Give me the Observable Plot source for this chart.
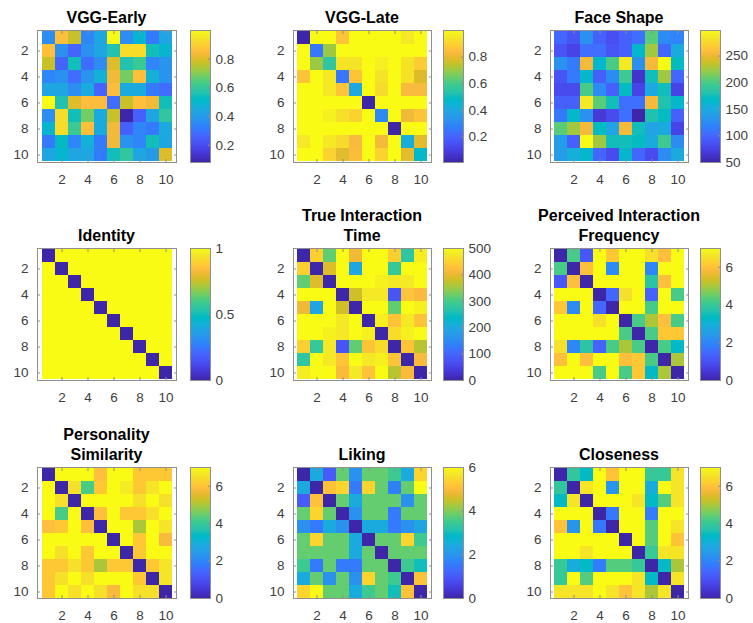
<!DOCTYPE html>
<html>
<head>
<meta charset="utf-8">
<script src="https://cdn.jsdelivr.net/npm/d3@7"></script>
<script src="https://cdn.jsdelivr.net/npm/@observablehq/plot@0.6"></script>
<style>
html, body { margin: 0; padding: 0; background: #fff; }
#chart { position: relative; width: 753px; height: 623px; overflow: hidden; background: #fff;
  font-family: "Liberation Sans", Arial, Helvetica, sans-serif; }
.title { position: absolute; width: 260px; text-align: center; font-weight: bold; font-size: 16px;
  color: #000; line-height: 20.5px; white-space: pre; }
.panel { position: absolute; }
.panel svg { overflow: visible; max-width: none !important; display: block; }
</style>
</head>
<body>
<div id="chart"></div>
<script>
// ---------- data ----------
const cellIndex = [1, 2, 3, 4, 5, 6, 7, 8, 9, 10];
const axisTicks = [2, 4, 6, 8, 10];

const titles = [
  "VGG-Early", "VGG-Late", "Face Shape",
  "Identity", "True Interaction\nTime", "Perceived Interaction\nFrequency",
  "Personality\nSimilarity", "Liking", "Closeness"
];

const vggEarly = [
  [0.36,0.86,0.77,0.34,0.43,1.00,0.36,0.49,0.31,0.43],
  [0.86,0.37,0.26,0.37,0.43,0.56,0.93,0.93,0.54,0.49],
  [0.77,0.26,0.54,0.28,0.36,0.80,0.56,0.61,0.34,0.38],
  [0.34,0.37,0.28,0.38,0.47,0.83,0.68,0.86,0.47,0.38],
  [0.43,0.43,0.36,0.45,0.26,0.85,0.45,0.45,0.31,0.28],
  [1.00,0.56,0.80,0.85,0.85,0.28,0.77,0.86,0.83,0.54],
  [0.36,0.93,0.54,0.68,0.45,0.77,0.08,0.25,0.43,0.59],
  [0.49,0.93,0.61,0.86,0.45,0.83,0.25,0.34,0.31,0.45],
  [0.31,0.52,0.34,0.47,0.31,0.83,0.38,0.34,0.54,0.43],
  [0.43,0.49,0.43,0.43,0.31,0.54,0.59,0.43,0.40,0.80]
];

const vggLate = [
  [0.01,1.00,1.00,0.86,1.00,1.00,1.00,1.00,0.95,1.00],
  [1.00,0.25,0.70,1.00,1.00,1.00,1.00,1.00,1.00,1.00],
  [1.00,0.70,0.56,0.94,0.94,1.00,0.97,1.00,0.94,0.88],
  [0.86,1.00,0.95,0.25,0.86,1.00,0.94,1.00,0.93,0.78],
  [1.00,1.00,0.95,0.86,0.40,1.00,0.92,1.00,0.83,0.83],
  [1.00,1.00,1.00,1.00,1.00,0.01,1.00,1.00,1.00,1.00],
  [1.00,1.00,0.97,0.93,0.90,1.00,0.30,1.00,0.81,0.86],
  [1.00,1.00,1.00,1.00,1.00,1.00,1.00,0.01,1.00,1.00],
  [0.95,1.00,0.95,0.92,0.83,1.00,0.82,1.00,0.42,0.79],
  [1.00,1.00,0.90,0.79,0.84,1.00,0.90,1.00,0.79,0.47]
];

const faceShape = [
  [100, 87,129, 95, 82, 95,105,204,124,119],
  [ 87, 75,105,105, 87, 95,162,224,100,149],
  [129,112,253,162,199,286,129,253,298,169],
  [ 87,112,162, 95,124,194, 62,174,224,100],
  [ 80, 80,199,124, 95,169, 75,149,174, 75],
  [ 95, 95,286,204,174,105,105,253,179,162],
  [112,162,129, 67, 80,105, 50,179,169, 95],
  [204,224,253,169,144,253,174,144,149, 75],
  [137, 95,298,224,174,174,169,149,194,124],
  [137,154,162,100, 80,162,100, 80,124,149]
];

const identity = [
  [0,1,1,1,1,1,1,1,1,1],
  [1,0,1,1,1,1,1,1,1,1],
  [1,1,0,1,1,1,1,1,1,1],
  [1,1,1,0,1,1,1,1,1,1],
  [1,1,1,1,0,1,1,1,1,1],
  [1,1,1,1,1,0,1,1,1,1],
  [1,1,1,1,1,1,0,1,1,1],
  [1,1,1,1,1,1,1,0,1,1],
  [1,1,1,1,1,1,1,1,0,1],
  [1,1,1,1,1,1,1,1,1,0]
];

const trueTime = [
  [  0,445,315,500,405,500,500,445,275,480],
  [445,  0,390,500,190,500,500,285,500,500],
  [315,390,  0,500,500,500,485,475,475,500],
  [500,500,500,  0,380,475,475, 75,430,415],
  [405,190,500,380,  0,500,500,315,500,485],
  [500,500,500,475,500,  0,485,430,475,430],
  [500,500,485,475,500,485,  0,460,485,500],
  [445,285,475, 75,315,430,460,  0,430,365],
  [275,500,475,430,500,475,485,430,  0,415],
  [480,500,500,415,475,430,500,365,415,  0]
];

const perceivedFreq = [
  [0.0,4.2,1.1,7.0,6.1,7.0,7.0,6.5,5.9,7.0],
  [4.2,0.0,5.9,7.0,2.1,7.0,7.0,2.0,7.0,7.0],
  [1.1,5.9,0.0,7.0,7.0,7.0,7.0,3.8,5.9,7.0],
  [7.0,7.0,7.0,0.0,1.4,6.5,7.0,1.3,7.0,4.2],
  [6.1,2.1,7.0,1.4,0.0,7.0,7.0,4.2,7.0,7.0],
  [7.0,7.0,7.0,6.5,7.0,0.0,4.2,5.0,5.9,4.2],
  [7.0,7.0,7.0,7.0,7.0,4.2,0.0,4.2,6.1,6.1],
  [6.5,2.0,3.8,1.3,4.2,5.0,4.2,0.0,4.2,3.3],
  [5.9,7.0,5.9,7.0,7.0,5.9,6.1,4.2,0.0,5.0],
  [7.0,7.0,7.0,4.2,7.0,4.2,6.1,3.3,5.0,0.0]
];

const personality = [
  [0.0,7.0,7.0,7.0,5.9,7.0,7.0,6.1,6.1,6.1],
  [7.0,0.0,6.5,4.2,6.1,7.0,6.7,6.1,6.6,7.0],
  [7.0,6.5,0.0,7.0,7.0,7.0,7.0,6.5,7.0,6.5],
  [7.0,4.2,7.0,0.0,5.9,7.0,6.1,6.1,6.5,7.0],
  [5.9,6.1,7.0,5.9,0.0,7.0,7.0,5.0,7.0,6.6],
  [7.0,7.0,7.0,7.0,7.0,0.0,7.0,6.1,7.0,5.8],
  [7.0,6.5,7.0,6.1,7.0,7.0,0.0,6.1,7.0,7.0],
  [6.1,6.1,6.5,6.1,5.0,6.1,6.1,0.0,6.1,6.6],
  [6.1,6.5,7.0,6.5,7.0,7.0,7.0,6.1,0.0,6.6],
  [6.1,7.0,6.5,7.0,6.5,5.8,7.0,6.5,6.5,0.0]
];

const liking = [
  [0.0,2.4,1.0,3.8,1.9,3.8,3.8,3.5,2.4,5.4],
  [2.4,0.0,5.1,5.4,1.5,5.4,3.8,1.6,3.8,6.0],
  [1.0,5.1,0.0,3.8,2.4,3.8,3.8,3.8,1.9,3.8],
  [3.8,5.4,3.8,0.0,1.9,3.8,3.8,1.5,3.8,3.8],
  [1.9,1.5,2.4,1.9,0.0,2.4,2.4,1.5,1.9,2.3],
  [3.8,5.4,3.8,3.8,2.4,0.0,3.8,3.8,5.4,3.5],
  [3.8,3.8,3.8,3.8,2.4,3.8,0.0,3.8,3.8,3.8],
  [3.5,1.5,3.8,1.5,1.5,3.8,3.8,0.0,3.5,3.0],
  [2.4,3.8,1.9,3.8,1.9,5.4,3.8,3.5,0.0,5.1],
  [5.4,6.0,3.8,3.8,2.4,3.5,3.8,3.0,5.1,0.0]
];

const closeness = [
  [0.0,3.9,3.3,7.0,6.0,7.0,7.0,4.0,4.0,6.6],
  [3.9,0.0,6.6,7.0,2.3,7.0,7.0,2.9,7.0,6.6],
  [3.3,6.6,0.0,7.0,7.0,7.0,6.6,3.3,4.3,6.6],
  [7.0,7.0,7.0,0.0,1.7,7.0,7.0,1.8,7.0,7.0],
  [6.0,2.3,7.0,1.7,0.0,7.0,7.0,4.3,7.0,6.6],
  [7.0,7.0,7.0,7.0,7.0,0.0,7.0,4.3,7.0,6.0],
  [7.0,7.0,6.6,7.0,7.0,7.0,0.0,4.0,6.6,6.6],
  [4.0,2.9,3.3,1.8,4.3,4.3,4.0,0.0,3.3,5.0],
  [4.0,7.0,4.3,7.0,7.0,7.0,6.6,3.3,0.0,6.6],
  [6.6,6.6,6.6,7.0,6.6,6.0,6.6,5.0,6.6,0.0]
];

const matrices = [vggEarly, vggLate, faceShape, identity, trueTime, perceivedFreq, personality, liking, closeness];

const colorDomains = [
  [0.08, 1.0], [0.01, 1.0], [50, 298],
  [0, 1], [0, 500], [0, 7],
  [0, 7], [0, 6], [0, 7]
];

const colorbarTicks = [
  [0.2, 0.4, 0.6, 0.8], [0.2, 0.4, 0.6, 0.8], [50, 100, 150, 200, 250],
  [0, 0.5, 1], [0, 100, 200, 300, 400, 500], [0, 2, 4, 6],
  [0, 2, 4, 6], [0, 2, 4, 6], [0, 2, 4, 6]
];

// ---------- style: parula colormap ----------
const parulaRGB = [
[0.2422,0.1504,0.6603],[0.2504,0.1650,0.7076],[0.2578,0.1818,0.7511],[0.2647,0.1978,0.7952],
[0.2706,0.2147,0.8364],[0.2751,0.2342,0.8710],[0.2783,0.2559,0.8991],[0.2803,0.2782,0.9221],
[0.2813,0.3006,0.9414],[0.2810,0.3228,0.9579],[0.2795,0.3447,0.9717],[0.2760,0.3667,0.9829],
[0.2699,0.3892,0.9906],[0.2602,0.4123,0.9952],[0.2440,0.4358,0.9988],[0.2206,0.4603,0.9973],
[0.1963,0.4847,0.9892],[0.1834,0.5074,0.9798],[0.1786,0.5289,0.9682],[0.1764,0.5499,0.9520],
[0.1687,0.5703,0.9359],[0.1540,0.5902,0.9218],[0.1460,0.6091,0.9079],[0.1380,0.6276,0.8973],
[0.1248,0.6459,0.8883],[0.1113,0.6635,0.8763],[0.0952,0.6798,0.8598],[0.0689,0.6948,0.8394],
[0.0297,0.7082,0.8163],[0.0036,0.7203,0.7917],[0.0067,0.7312,0.7660],[0.0433,0.7411,0.7394],
[0.0964,0.7500,0.7120],[0.1408,0.7584,0.6842],[0.1717,0.7670,0.6554],[0.1938,0.7758,0.6251],
[0.2161,0.7843,0.5923],[0.2470,0.7918,0.5567],[0.2906,0.7973,0.5188],[0.3406,0.8008,0.4789],
[0.3909,0.8029,0.4354],[0.4456,0.8024,0.3909],[0.5044,0.7993,0.3480],[0.5616,0.7942,0.3045],
[0.6174,0.7876,0.2612],[0.6720,0.7793,0.2227],[0.7242,0.7698,0.1910],[0.7738,0.7598,0.1646],
[0.8203,0.7498,0.1535],[0.8634,0.7406,0.1596],[0.9035,0.7330,0.1774],[0.9393,0.7288,0.2100],
[0.9728,0.7298,0.2394],[0.9956,0.7434,0.2371],[0.9970,0.7659,0.2199],[0.9952,0.7893,0.2028],
[0.9892,0.8136,0.1885],[0.9786,0.8386,0.1766],[0.9676,0.8639,0.1643],[0.9610,0.8890,0.1537],
[0.9597,0.9135,0.1423],[0.9628,0.9373,0.1265],[0.9691,0.9606,0.1064],[0.9769,0.9839,0.0805]
];
const parulaColors = parulaRGB.map(([r, g, b]) => d3.rgb(r * 255, g * 255, b * 255).formatHex());
const parula = d3.piecewise(d3.interpolateRgb, parulaColors);

// ---------- layout (style) ----------
const frameLeft = [37, 293, 550];
const frameWidth = [139, 138, 138];
const frameTop = [30, 248, 467];
const frameHeight = [132, 132, 131];
const cbLeft = [190, 443, 700];
const cbWidth = 20;
const mL = 36, mR = 6, mT = 6, mB = 30;
const cbMR = 40;
const lineColor = "#8f8f8f";
const tickTextColor = "#404040";
const fontFamily = '"Liberation Sans", Arial, Helvetica, sans-serif';

const chart = document.getElementById("chart");

function colorScale(domain) {
  return {type: "linear", domain, interpolate: parula, clamp: true};
}

function heatmap(matrix, domain, fw, fh) {
  const cells = matrix.flatMap((row, i) => row.map((v, j) => ({row: cellIndex[i], col: cellIndex[j], value: v})));
  return Plot.plot({
    width: mL + fw + mR, height: mT + fh + mB,
    marginLeft: mL, marginRight: mR, marginTop: mT, marginBottom: mB,
    style: {fontFamily, fontSize: "13.5px", color: tickTextColor, background: "transparent"},
    x: {type: "band", domain: cellIndex, padding: 0},
    y: {type: "band", domain: cellIndex, padding: 0},
    color: colorScale(domain),
    marks: [
      Plot.cell(cells, {x: "col", y: "row", fill: "value", inset: 0, shapeRendering: "crispEdges"}),
      Plot.axisX(axisTicks, {anchor: "bottom", tickSize: 0, tickPadding: 12, label: null, fill: tickTextColor}),
      Plot.axisY(axisTicks, {anchor: "left", tickSize: 0, tickPadding: 9, label: null, fill: tickTextColor}),
      Plot.axisX(axisTicks, {anchor: "bottom", tickSize: -3, fill: "none", stroke: lineColor, label: null}),
      Plot.axisX(axisTicks, {anchor: "top", tickSize: -3, fill: "none", stroke: lineColor, label: null}),
      Plot.axisY(axisTicks, {anchor: "left", tickSize: -3, fill: "none", stroke: lineColor, label: null}),
      Plot.axisY(axisTicks, {anchor: "right", tickSize: -3, fill: "none", stroke: lineColor, label: null}),
      Plot.frame({stroke: lineColor})
    ]
  });
}

function colorbar(domain, ticks, fh) {
  const [lo, hi] = domain;
  const n = 132;
  const strips = d3.range(n).map(k => ({
    y1: lo + (hi - lo) * k / n,
    y2: lo + (hi - lo) * (k + 1) / n,
    value: lo + (hi - lo) * (k + 0.5) / n
  }));
  return Plot.plot({
    width: 1 + cbWidth + cbMR, height: mT + fh + mB,
    marginLeft: 1, marginRight: cbMR, marginTop: mT, marginBottom: mB,
    style: {fontFamily, fontSize: "13.5px", color: tickTextColor, background: "transparent"},
    x: {domain: [0, 1], axis: null},
    y: {domain: [lo, hi]},
    color: colorScale(domain),
    marks: [
      Plot.rect(strips, {x1: () => 0, x2: () => 1, y1: "y1", y2: "y2", fill: "value", shapeRendering: "crispEdges"}),
      Plot.axisY(ticks, {anchor: "right", tickSize: 0, tickPadding: 5, label: null, fill: tickTextColor, tickFormat: d => String(d)}),
      Plot.axisY(ticks, {anchor: "right", tickSize: -3, fill: "none", stroke: lineColor, label: null}),
      Plot.frame({stroke: lineColor})
    ]
  });
}

matrices.forEach((matrix, i) => {
  const r = Math.floor(i / 3), c = i % 3;
  const fw = frameWidth[c], fh = frameHeight[r];

  const hm = heatmap(matrix, colorDomains[i], fw, fh);
  const hmDiv = document.createElement("div");
  hmDiv.className = "panel";
  hmDiv.style.left = (frameLeft[c] - mL) + "px";
  hmDiv.style.top = (frameTop[r] - mT) + "px";
  hmDiv.style.width = (mL + fw + mR) + "px";
  hmDiv.appendChild(hm);
  chart.appendChild(hmDiv);

  const cb = colorbar(colorDomains[i], colorbarTicks[i], fh);
  const cbDiv = document.createElement("div");
  cbDiv.className = "panel";
  cbDiv.style.left = (cbLeft[c] - 1) + "px";
  cbDiv.style.top = (frameTop[r] - mT) + "px";
  cbDiv.style.width = (1 + cbWidth + cbMR) + "px";
  cbDiv.appendChild(cb);
  chart.appendChild(cbDiv);

  // title
  const lines = titles[i].split("\n");
  const lastBaseline = frameTop[r] - 6;
  const lineH = 20.5;
  const fs = 16;
  const baselineInLine = (lineH - fs * 1.117) / 2 + fs * 0.905;
  const t = document.createElement("div");
  t.className = "title";
  t.textContent = titles[i];
  t.style.left = (frameLeft[c] + fw / 2 - 130) + "px";
  t.style.top = (lastBaseline - (lines.length - 1) * lineH - baselineInLine) + "px";
  chart.appendChild(t);
});
</script>
</body>
</html>
